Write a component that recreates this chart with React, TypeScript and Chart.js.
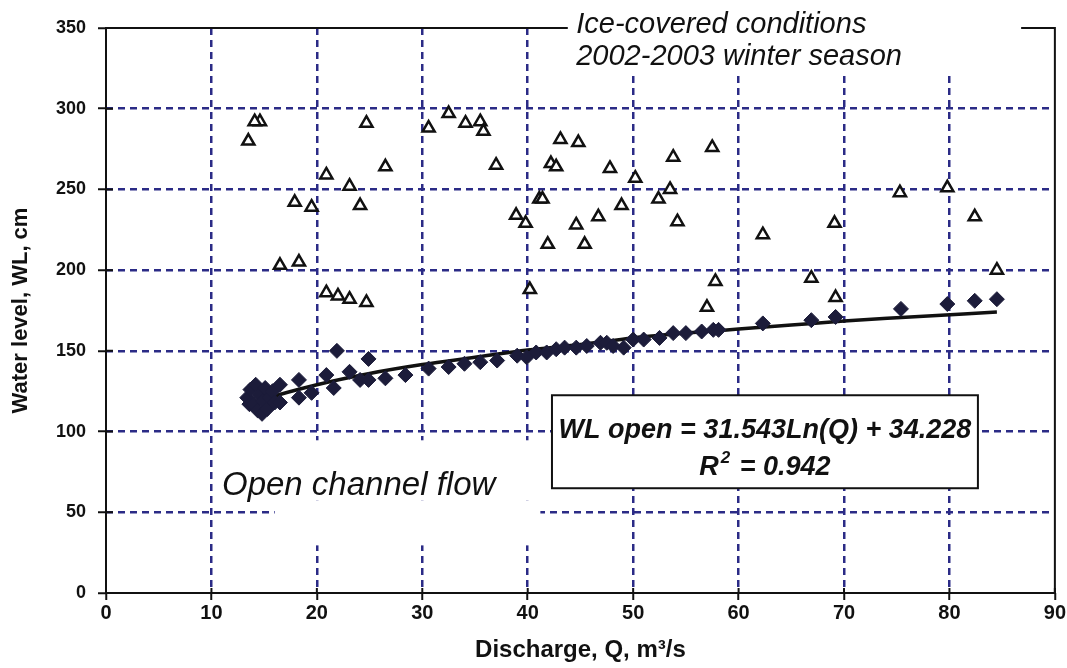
import React, { useEffect, useRef } from 'react';
import { Chart, registerables } from 'chart.js';

Chart.register(...registerables);

// Ice-covered conditions (open triangles)
const iceQ = [14.6, 14.1, 13.5, 24.7, 26.5, 20.9, 23.1, 17.9, 19.5, 24.1, 16.5, 18.3, 20.9, 22.0, 23.1, 24.7,
  30.6, 32.5, 34.1, 35.5, 35.8, 37.0, 38.9, 39.8, 41.1, 41.4, 41.9, 43.1, 44.8, 42.2, 42.7, 44.6, 45.4, 46.7,
  47.8, 48.9, 50.2, 40.2, 52.4, 53.5, 53.8, 54.2, 57.5, 62.3, 69.1, 57.8, 57.0, 66.9, 69.2, 75.3, 79.8, 82.4, 84.5];
const iceWL = [292, 292, 280, 291, 264, 259, 252, 242, 239, 240, 203, 205, 186, 184, 182, 180,
  288, 297, 291, 292, 286, 265, 234, 229, 244, 244, 216, 281, 279, 266, 264, 228, 216, 233,
  263, 240, 257, 188, 244, 250, 270, 230, 276, 222, 229, 193, 177, 195, 183, 248, 251, 233, 200];

// Open channel flow (filled diamonds)
const openQ = [13.4, 13.6, 13.7, 14.0, 14.2, 14.4, 14.6, 14.8, 14.9, 15.1, 15.3, 15.5, 15.8, 16.0,
  16.5, 16.5, 18.3, 18.3, 19.5, 20.9, 21.6, 21.9, 23.1, 24.1, 24.9, 24.9, 26.5, 28.4, 30.6, 32.5, 34.0,
  35.5, 37.1, 39.0, 39.9, 40.8, 41.8, 42.7, 43.5, 44.6, 45.6, 46.9, 47.5, 48.1, 49.1, 50.0, 51.0, 52.5,
  53.8, 55.0, 56.5, 57.6, 58.1, 62.3, 66.9, 69.2, 75.4, 79.8, 82.4, 84.5];
const openWL = [121, 117, 126, 117, 129, 113, 123, 111, 119, 127, 114, 121, 125, 118,
  129, 118, 132, 121, 124, 135, 127, 150, 137, 132, 132, 145, 133, 135, 139, 140, 142,
  143, 144, 147, 146, 149, 149, 151, 152, 152, 153, 155, 155, 153, 152, 157, 157, 158,
  161, 161, 162, 163, 163, 167, 169, 171, 176, 179, 181, 182];

// Fitted curve
const trendQ = [14, 15, 20, 25, 30, 35, 40, 45, 50, 55, 60, 65, 70, 75, 84.5];
const trendWL = [117.5, 120, 129, 136, 141.5, 146, 150.5, 154, 158, 161, 163.5, 166, 168.5, 170.5, 174];

const xTickValues = [0, 10, 20, 30, 40, 50, 60, 70, 80, 90];
const yTickValues = [0, 50, 100, 150, 200, 250, 300, 350];

const FONT = "'Liberation Sans', Arial, Helvetica, sans-serif";
const GRID = '#2b2b86';

const annotPlugin = {
  id: 'annot',
  beforeDatasetsDraw(chart: any) {
    const { ctx, chartArea: a, scales } = chart;
    const x = scales.x, y = scales.y;
    const px = (v: number) => x.getPixelForValue(v);
    const py = (v: number) => y.getPixelForValue(v);
    ctx.save();
    ctx.fillStyle = '#ffffff';
    // white background behind the "Ice-covered" caption
    ctx.fillRect(px(43.8), a.top - 14, px(86.8) - px(43.8), py(320.7) - a.top + 14);
    // white background behind "Open channel flow"
    ctx.fillRect(px(10.2), py(94.6), px(41.2) - px(10.2), py(57.4) - py(94.6));
    ctx.fillRect(px(16.0), py(57.4), px(41.2) - px(16.0), py(29.5) - py(57.4));
    // equation box
    const bx0 = px(42.3), bx1 = px(82.7), by0 = py(122.5), by1 = py(64.9);
    ctx.fillRect(bx0, by0, bx1 - bx0, by1 - by0);
    ctx.strokeStyle = '#111';
    ctx.lineWidth = 2;
    ctx.strokeRect(bx0, by0, bx1 - bx0, by1 - by0);

    // frame: left & bottom axes, top (with gap) and right
    ctx.beginPath();
    ctx.moveTo(px(43.8), a.top);
    ctx.lineTo(a.left, a.top);
    ctx.lineTo(a.left, a.bottom);
    ctx.lineTo(a.right, a.bottom);
    ctx.lineTo(a.right, a.top);
    ctx.lineTo(px(86.8), a.top);
    ctx.stroke();

    // inward halves of the tick marks
    ctx.beginPath();
    yTickValues.forEach((v) => {
      ctx.moveTo(a.left, py(v));
      ctx.lineTo(a.left + 7, py(v));
    });
    xTickValues.forEach((v) => {
      ctx.moveTo(px(v), a.bottom);
      ctx.lineTo(px(v), a.bottom - 5);
    });
    ctx.stroke();

    // captions
    ctx.fillStyle = '#111';
    ctx.textBaseline = 'alphabetic';
    ctx.textAlign = 'left';
    ctx.font = `italic 29px ${FONT}`;
    ctx.fillText('Ice-covered conditions', px(44.6), py(346.7));
    ctx.fillText('2002-2003 winter season', px(44.6), py(326.9));
    ctx.font = `italic 33px ${FONT}`;
    ctx.fillText('Open channel flow', px(11.0), py(60.5));

    // equation
    const cx = (bx0 + bx1) / 2;
    ctx.textAlign = 'center';
    ctx.font = `italic bold 27px ${FONT}`;
    ctx.fillText('WL open = 31.543Ln(Q) + 34.228', cx, py(95.8));
    const r = 'R';
    const rest = ' = 0.942';
    const wR = ctx.measureText(r).width;
    const wRest = ctx.measureText(rest).width;
    ctx.font = `italic bold 17px ${FONT}`;
    const wSup = ctx.measureText('2').width + 4;
    const total = wR + wSup + wRest;
    const sx = cx - total / 2;
    const base = py(72.9);
    ctx.textAlign = 'left';
    ctx.font = `italic bold 27px ${FONT}`;
    ctx.fillText(r, sx, base);
    ctx.font = `italic bold 17px ${FONT}`;
    ctx.fillText('2', sx + wR + 2, base - 12);
    ctx.font = `italic bold 27px ${FONT}`;
    ctx.fillText(rest, sx + wR + wSup, base);
    ctx.restore();
  },
};

export default function App() {
  const ref = useRef<HTMLCanvasElement | null>(null);

  useEffect(() => {
    if (!ref.current) return;
    const ice = iceQ.map((q, i) => ({ x: q, y: iceWL[i] }));
    const open = openQ.map((q, i) => ({ x: q, y: openWL[i] }));
    const trend = trendQ.map((q, i) => ({ x: q, y: trendWL[i] }));

    const gridColor = (lo: number, hi: number) => (c: any) =>
      c.tick && (c.tick.value === lo || c.tick.value === hi) ? 'rgba(0,0,0,0)' : GRID;

    const chart = new Chart(ref.current, {
      type: 'scatter',
      data: {
        datasets: [
          {
            label: 'Ice-covered',
            data: ice,
            pointStyle: 'triangle',
            pointRadius: 7,
            borderWidth: 2.5,
            borderColor: '#111111',
            backgroundColor: '#ffffff',
          },
          {
            label: 'Open channel',
            data: open,
            pointStyle: 'rectRot',
            pointRadius: 7.5,
            borderWidth: 1,
            borderColor: '#1c1c3a',
            backgroundColor: '#1c1c3a',
          },
          {
            label: 'Fit',
            data: trend,
            showLine: true,
            pointRadius: 0,
            borderColor: '#111111',
            borderWidth: 3.5,
            cubicInterpolationMode: 'monotone',
          } as any,
        ],
      },
      options: {
        responsive: false,
        animation: false,
        devicePixelRatio: 1,
        layout: { padding: { top: 28, right: 12, left: 0, bottom: 0 } },
        plugins: {
          legend: { display: false },
          tooltip: { enabled: false },
        },
        scales: {
          x: {
            type: 'linear',
            min: 0,
            max: 90,
            afterBuildTicks: (s: any) => {
              s.ticks = xTickValues.map((v) => ({ value: v }));
            },
            afterFit: (s: any) => {
              s.height = 75;
            },
            ticks: {
              color: '#111',
              padding: 1,
              font: { family: FONT, size: 20, weight: 'bold' },
            },
            grid: {
              color: gridColor(0, 90),
              lineWidth: 2.5,
              drawTicks: true,
              tickLength: 7,
              tickColor: '#111',
              tickWidth: 2,
              tickBorderDash: [],
            } as any,
            border: { display: false, dash: [7, 5] },
            title: {
              display: true,
              text: 'Discharge, Q, m³/s',
              color: '#111',
              font: { family: FONT, size: 24, weight: 'bold' },
              padding: { top: 0, bottom: 3 },
            },
          },
          y: {
            type: 'linear',
            min: 0,
            max: 350,
            afterBuildTicks: (s: any) => {
              s.ticks = yTickValues.map((v) => ({ value: v }));
            },
            afterFit: (s: any) => {
              s.width = 106;
            },
            ticks: {
              color: '#111',
              padding: 12,
              font: { family: FONT, size: 18, weight: 'bold' },
            },
            grid: {
              color: gridColor(0, 350),
              lineWidth: 2.5,
              drawTicks: true,
              tickLength: 8,
              tickColor: '#111',
              tickWidth: 2,
              tickBorderDash: [],
            } as any,
            border: { display: false, dash: [7, 5] },
            title: {
              display: true,
              text: 'Water level, WL, cm',
              color: '#111',
              font: { family: FONT, size: 22, weight: 'bold' },
              padding: { top: 8, bottom: 0 },
            },
          },
        },
      },
      plugins: [annotPlugin],
    } as any);

    return () => chart.destroy();
  }, []);

  return (
    <div style={{ position: 'fixed', left: 0, top: 0, width: 1067, height: 668, background: '#fff' }}>
      <canvas ref={ref} width={1067} height={668} style={{ display: 'block', width: 1067, height: 668 }} />
    </div>
  );
}
